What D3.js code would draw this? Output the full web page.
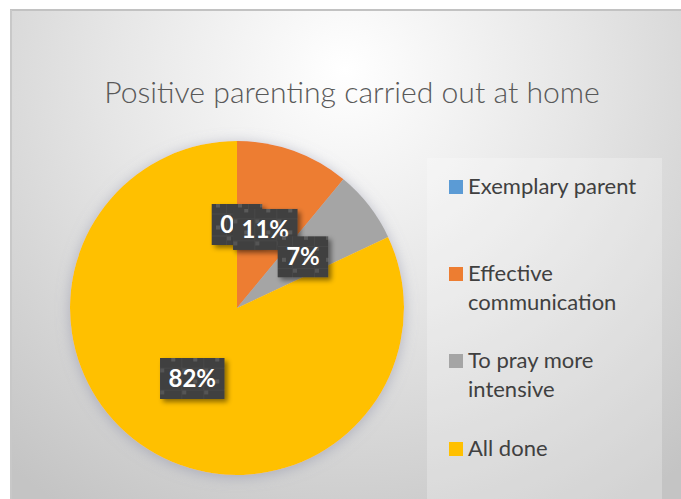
<!DOCTYPE html>
<html>
<head>
<meta charset="utf-8">
<script src="https://cdn.jsdelivr.net/npm/d3@7"></script>
<style>
  body { margin: 0; background: #fff; }
  svg { display: block; }
</style>
</head>
<body>
<div id="chart"></div>
<script>
// chart data
const title = 'Positive parenting carried out at home';
const categories = ['Exemplary parent', 'Effective communication', 'To pray more intensive', 'All done'];
const legendLines = [['Exemplary parent'], ['Effective', 'communication'], ['To pray more', 'intensive'], ['All done']];
const values = [0, 11, 7, 82];
const labels = ['0%', '11%', '7%', '82%'];
const colors = ['#5B9BD5', '#ED7D31', '#A5A5A5', '#FFC000'];

const width = 681, height = 499;
const font = 'Lato, "Open Sans", sans-serif';

const svg = d3.select('#chart').append('svg')
    .attr('width', width)
    .attr('height', height);

const defs = svg.append('defs');

// background gradient of the chart area
const bg = defs.append('radialGradient')
    .attr('id', 'bg')
    .attr('gradientUnits', 'userSpaceOnUse')
    .attr('cx', 345).attr('cy', 70).attr('r', 520);
bg.append('stop').attr('offset', 0).attr('stop-color', '#ffffff');
bg.append('stop').attr('offset', 0.45).attr('stop-color', '#e6e6e6');
bg.append('stop').attr('offset', 1).attr('stop-color', '#c4c4c4');

// soft shadow round the pie
const glow = defs.append('filter').attr('id', 'glow')
    .attr('x', '-20%').attr('y', '-20%').attr('width', '140%').attr('height', '140%');
glow.append('feGaussianBlur').attr('in', 'SourceAlpha').attr('stdDeviation', 7).attr('result', 'b');
glow.append('feFlood').attr('flood-color', '#8c8fa6').attr('flood-opacity', 0.55);
glow.append('feComposite').attr('in2', 'b').attr('operator', 'in').attr('result', 's');
glow.append('feOffset').attr('in', 's').attr('dx', 0).attr('dy', 2).attr('result', 'o');
const gm = glow.append('feMerge');
gm.append('feMergeNode').attr('in', 'o');
gm.append('feMergeNode').attr('in', 'SourceGraphic');

// shadow of label boxes
const boxShadow = defs.append('filter').attr('id', 'boxShadow')
    .attr('x', '-30%').attr('y', '-30%').attr('width', '170%').attr('height', '170%');
boxShadow.append('feDropShadow').attr('dx', 3).attr('dy', 3).attr('stdDeviation', 2.5)
    .attr('flood-color', '#000').attr('flood-opacity', 0.45);

// dotted texture for label boxes
const pat = defs.append('pattern').attr('id', 'dots')
    .attr('patternUnits', 'userSpaceOnUse')
    .attr('width', 22).attr('height', 22);
pat.append('rect').attr('width', 22).attr('height', 22).attr('fill', '#404040');
pat.append('path').attr('d', 'M0,11.5H22M11.5,0V22').attr('stroke', '#474747').attr('stroke-width', 1);
pat.append('rect').attr('x', 1).attr('y', 1).attr('width', 4).attr('height', 4).attr('fill', '#5a5a5a');
pat.append('rect').attr('x', 12).attr('y', 12).attr('width', 4).attr('height', 4).attr('fill', '#545454');

// chart area
svg.append('rect')
    .attr('x', 10).attr('y', 10)
    .attr('width', width - 10).attr('height', height - 10)
    .attr('fill', 'url(#bg)');
svg.append('line')
    .attr('x1', 10).attr('x2', width).attr('y1', 10).attr('y2', 10)
    .attr('stroke', '#c2c2c2').attr('stroke-width', 2);
svg.append('line')
    .attr('x1', 11).attr('x2', 11).attr('y1', 10).attr('y2', height)
    .attr('stroke', '#c8c8c8').attr('stroke-width', 2);

// title, fitted to the reference width
const titleText = svg.append('text')
    .attr('x', 352).attr('y', 103)
    .attr('text-anchor', 'middle')
    .attr('font-family', font)
    .attr('font-weight', 300)
    .attr('fill', '#595959')
    .text(title);
let ts = 30;
titleText.attr('font-size', ts);
ts = ts * 496 / titleText.node().getComputedTextLength();
titleText.attr('font-size', ts);

// legend panel
svg.append('rect')
    .attr('x', 427).attr('y', 158)
    .attr('width', 235).attr('height', height - 158)
    .attr('fill', '#ffffff').attr('opacity', 0.25);

// pie
const cx = 237, cy = 308, radius = 167;
const pie = d3.pie().sort(null).value(d => d);
const arcs = pie(values);
const arc = d3.arc().innerRadius(0).outerRadius(radius);
const labelArc = d3.arc().innerRadius(radius * 0.5).outerRadius(radius * 0.5);

const chart = svg.append('g')
    .attr('transform', `translate(${cx},${cy})`);

chart.append('g')
    .attr('filter', 'url(#glow)')
  .selectAll('path')
    .data(arcs)
  .join('path')
    .attr('d', arc)
    .attr('fill', (d, i) => colors[i]);

// data labels
const lab = chart.selectAll('.label')
    .data(arcs)
  .join('g')
    .attr('class', 'label')
    .attr('transform', d => `translate(${labelArc.centroid(d)})`);

lab.each(function(d, i) {
  const g = d3.select(this);
  const rect = g.append('rect');
  const t = g.append('text')
      .attr('text-anchor', 'middle')
      .attr('dy', '0.36em')
      .attr('font-family', font)
      .attr('font-weight', 'bold')
      .attr('font-size', 24)
      .attr('fill', '#ffffff')
      .text(labels[i]);
  const w = t.node().getComputedTextLength() + 17;
  rect.attr('x', -w / 2).attr('y', -20.5)
      .attr('width', w).attr('height', 41)
      .attr('fill', 'url(#dots)')
      .attr('filter', 'url(#boxShadow)');
});

// legend
const legendFont = 22;
const legend = svg.append('g')
    .attr('transform', 'translate(449,0)');
const legendY = [194, 281, 368, 456];

const item = legend.selectAll('.legend-item')
    .data(categories)
  .join('g')
    .attr('class', 'legend-item')
    .attr('transform', (d, i) => `translate(0,${legendY[i]})`);

item.append('rect')
    .attr('y', -14).attr('width', 14).attr('height', 14)
    .attr('fill', (d, i) => colors[i]);

item.append('text')
    .attr('x', 19)
    .attr('font-family', font)
    .attr('font-size', legendFont)
    .attr('fill', '#404040')
  .selectAll('tspan')
    .data((d, i) => legendLines[i])
  .join('tspan')
    .attr('x', 19)
    .attr('dy', (d, j) => j === 0 ? 0 : 29)
    .text(d => d);
</script>
</body>
</html>
